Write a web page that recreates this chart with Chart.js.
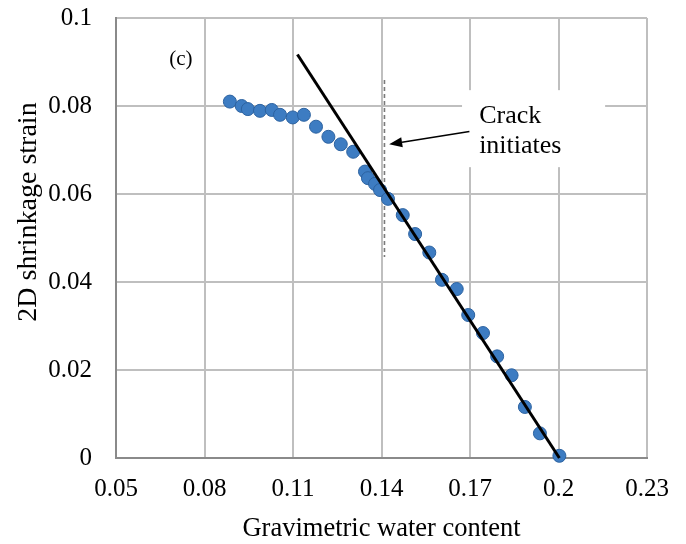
<!DOCTYPE html>
<html>
<head>
<meta charset="utf-8">
<script src="https://cdn.jsdelivr.net/npm/chart.js@4.4.1/dist/chart.umd.min.js"></script>
<style>
  html, body { margin: 0; padding: 0; background: #ffffff; }
  #wrap { width: 686px; height: 544px; position: relative; }
</style>
</head>
<body>
<div id="wrap"><canvas id="c" width="686" height="544"></canvas></div>
<script>
// ---- data ----
const xTicks = [0.05, 0.08, 0.11, 0.14, 0.17, 0.2, 0.23];
const yTicks = [0, 0.02, 0.04, 0.06, 0.08, 0.1];

const waterContent = [0.0886, 0.0926, 0.0947, 0.0988, 0.1028, 0.1056, 0.1099, 0.1137, 0.1178,
  0.1220, 0.1262, 0.1304, 0.1344, 0.1354, 0.1378, 0.1395, 0.1422, 0.1472, 0.1514,
  0.1562, 0.1605, 0.1655, 0.1694, 0.1744, 0.1792, 0.1841, 0.1886, 0.1937, 0.2003];
const shrinkStrain = [0.0810, 0.0800, 0.0793, 0.0789, 0.0791, 0.0780, 0.0774, 0.0780, 0.0753,
  0.0730, 0.0713, 0.0696, 0.0651, 0.0636, 0.0623, 0.0609, 0.0589, 0.0552, 0.0509,
  0.0467, 0.0405, 0.0384, 0.0325, 0.0284, 0.0231, 0.0188, 0.0116, 0.0056, 0.0005];

const fitX = [0.1115, 0.2003];
const fitY = [0.0917, 0.0];

const crackX = [0.141, 0.141];
const crackY = [0.0859, 0.0457];

const annotationLines = ["Crack", "initiates"];
const panelLabel = "(c)";
const xTitle = "Gravimetric water content";
const yTitle = "2D shrinkage strain";

// annotation anchor points in data space
const note = {
  box: { x0: 0.1673, x1: 0.2158, y0: 0.0836, y1: 0.0661 },
  textX: 0.1731, line1Y: 0.0761, line2Y: 0.0693,
  arrowFrom: { x: 0.1698, y: 0.0742 }, arrowTo: { x: 0.1426, y: 0.0713 },
  label: { x: 0.0720, y: 0.0905 }
};

const serif = "'Liberation Serif', 'Times New Roman', serif";

const zip = (xs, ys) => xs.map((x, i) => ({ x: x, y: ys[i] }));

const extras = {
  id: 'extras',
  beforeDatasetsDraw(chart) {
    const ctx = chart.ctx, xs = chart.scales.x, ys = chart.scales.y;
    ctx.save();
    const bx0 = xs.getPixelForValue(note.box.x0), bx1 = xs.getPixelForValue(note.box.x1);
    const by0 = ys.getPixelForValue(note.box.y0), by1 = ys.getPixelForValue(note.box.y1);
    ctx.fillStyle = '#ffffff';
    ctx.fillRect(bx0, by0, bx1 - bx0, by1 - by0);
    ctx.fillStyle = '#000000';
    ctx.font = '26px ' + serif;
    ctx.textAlign = 'left';
    ctx.textBaseline = 'alphabetic';
    ctx.fillText(annotationLines[0], xs.getPixelForValue(note.textX), ys.getPixelForValue(note.line1Y));
    ctx.fillText(annotationLines[1], xs.getPixelForValue(note.textX), ys.getPixelForValue(note.line2Y));
    ctx.font = '21px ' + serif;
    ctx.textAlign = 'center';
    ctx.textBaseline = 'middle';
    ctx.fillText(panelLabel, xs.getPixelForValue(note.label.x), ys.getPixelForValue(note.label.y));
    ctx.restore();
  },
  afterDatasetsDraw(chart) {
    const ctx = chart.ctx, xs = chart.scales.x, ys = chart.scales.y;
    ctx.save();
    const x1 = xs.getPixelForValue(note.arrowFrom.x), y1 = ys.getPixelForValue(note.arrowFrom.y);
    const x2 = xs.getPixelForValue(note.arrowTo.x), y2 = ys.getPixelForValue(note.arrowTo.y);
    const ang = Math.atan2(y2 - y1, x2 - x1);
    const hl = 13, hw = 5;
    const bxp = x2 - hl * Math.cos(ang), byp = y2 - hl * Math.sin(ang);
    ctx.strokeStyle = '#000'; ctx.lineWidth = 1.6;
    ctx.beginPath(); ctx.moveTo(x1, y1); ctx.lineTo(bxp, byp); ctx.stroke();
    ctx.fillStyle = '#000';
    ctx.beginPath();
    ctx.moveTo(x2, y2);
    ctx.lineTo(bxp + hw * Math.sin(ang), byp - hw * Math.cos(ang));
    ctx.lineTo(bxp - hw * Math.sin(ang), byp + hw * Math.cos(ang));
    ctx.closePath(); ctx.fill();

    // axis titles
    ctx.fillStyle = '#000';
    ctx.font = '26.5px ' + serif;
    ctx.textAlign = 'center';
    ctx.textBaseline = 'alphabetic';
    ctx.fillText(xTitle, (chart.chartArea.left + chart.chartArea.right) / 2, 536);
    ctx.save();
    ctx.translate(29, 212);
    ctx.rotate(-Math.PI / 2);
    ctx.font = '28px ' + serif;
    ctx.textBaseline = 'middle';
    ctx.fillText(yTitle, 0, 0);
    ctx.restore();
    ctx.restore();
  }
};

new Chart(document.getElementById('c'), {
  type: 'scatter',
  data: {
    datasets: [
      {
        label: 'fit', data: zip(fitX, fitY), showLine: true, order: 0,
        borderColor: '#000000', borderWidth: 3, pointRadius: 0, clip: false
      },
      {
        label: 'strain', data: zip(waterContent, shrinkStrain), order: 1,
        pointRadius: 6.5, pointBackgroundColor: '#3d7cc2', pointBorderColor: '#2c62a0',
        pointBorderWidth: 1, clip: false
      },
      {
        label: 'crack', data: zip(crackX, crackY), showLine: true, order: 2,
        borderColor: '#7a7a7a', borderWidth: 1.6, borderDash: [4, 3], pointRadius: 0, clip: false
      }
    ]
  },
  options: {
    responsive: false,
    animation: false,
    devicePixelRatio: 1,
    layout: { padding: { top: 18, right: 39, left: 0, bottom: 0 } },
    plugins: { legend: { display: false }, tooltip: { enabled: false } },
    scales: {
      x: {
        type: 'linear', min: 0.05, max: 0.23,
        afterBuildTicks: (s) => { s.ticks = xTicks.map(v => ({ value: v })); },
        afterFit: (s) => { s.height = 86; s.paddingLeft = 0; s.paddingRight = 0; },
        ticks: {
          padding: 16, color: '#000', font: { family: serif, size: 25 },
          maxRotation: 0, autoSkip: false,
          callback: (v) => String(+v.toFixed(2))
        },
        grid: { color: '#bfbfbf', lineWidth: 2, drawTicks: false },
        border: { display: true, color: '#8a8a8a', width: 2 }
      },
      y: {
        type: 'linear', min: 0, max: 0.1,
        afterBuildTicks: (s) => { s.ticks = yTicks.map(v => ({ value: v })); },
        afterFit: (s) => { s.width = 116; s.paddingTop = 0; s.paddingBottom = 0; },
        ticks: {
          padding: 24, color: '#000', font: { family: serif, size: 25 },
          autoSkip: false,
          callback: (v) => String(+v.toFixed(2))
        },
        grid: { color: '#bfbfbf', lineWidth: 2, drawTicks: false },
        border: { display: true, color: '#8a8a8a', width: 2 }
      }
    }
  },
  plugins: [extras]
});
</script>
</body>
</html>
